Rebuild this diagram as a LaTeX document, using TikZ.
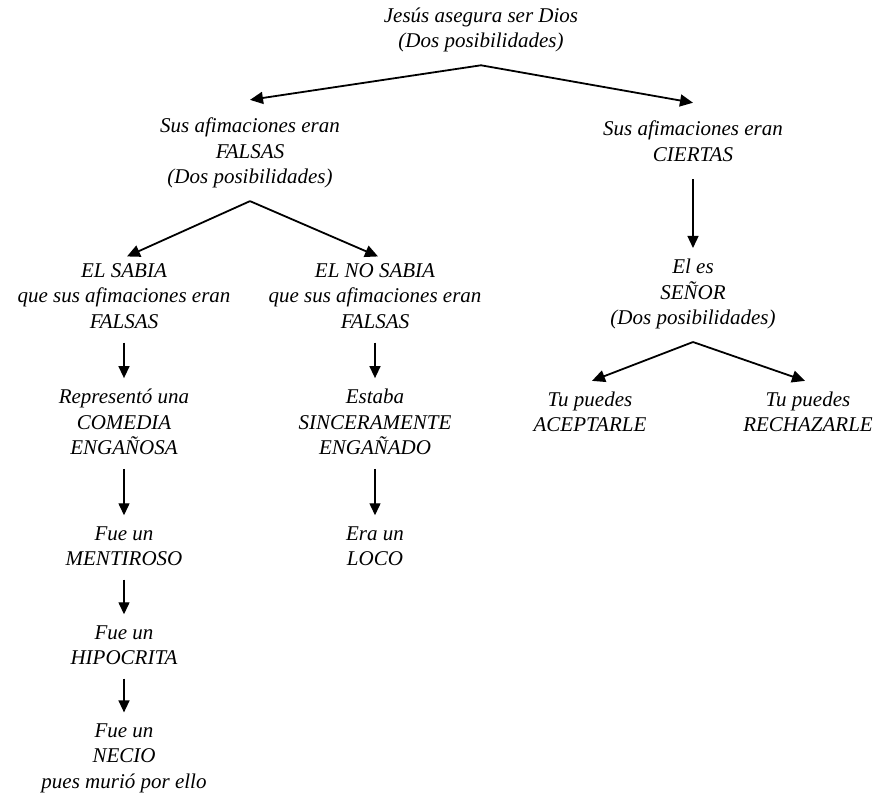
\documentclass[tikz,border=0pt]{standalone}
\usepackage{fontspec}
\setmainfont{Liberation Serif}
\usepackage{tikz}
\usetikzlibrary{arrows.meta,calc,positioning}

\begin{document}
\begin{tikzpicture}[
    % GLOBAL CFG
    x=1pt, y=-1pt,
    font=\fontsize{21}{25.5}\selectfont\itshape,
    % Styles
    txt/.style={% For every text block
        align=center,
        inner sep=0pt,
        outer sep=0pt,
        },
    fork/.style={% Arrows that split in two
        -{Triangle[length=13pt,width=12pt]},
        line width=1.8pt,
        },
    down/.style={% Small arrows going down
        -{Triangle[length=12pt,width=11pt]},
        line width=1.4pt,
        shorten <=14pt,
        shorten >=11pt,
        },
    ]
    \useasboundingbox (0,0) rectangle (886,795);

    % Draw the texts
    \node [txt] (top) at (481,30) {Jesús asegura ser Dios\\(Dos posibilidades)};

    \node [txt] (falsas) at (250,153) {Sus afimaciones eran\\FALSAS\\(Dos posibilidades)};
    \node [txt] (ciertas) at (693,141) {Sus afimaciones eran\\CIERTAS};

    % Left branch
    \node [txt] (sabia) at (124,296) {EL SABIA\\que sus afimaciones eran\\FALSAS};
    \node [txt] (comedia) at (124,422) {Representó una\\COMEDIA\\ENGAÑOSA};
    \node [txt] (mentiroso) at (124,546) {Fue un\\MENTIROSO};
    \node [txt] (hipocrita) at (124,645) {Fue un\\HIPOCRITA};
    \node [txt] (necio) at (124,758) {Fue un\\NECIO\\pues murió por ello};

    % Middle branch
    \node [txt] (nosabia) at (375,296) {EL NO SABIA\\que sus afimaciones eran\\FALSAS};
    \node [txt] (sincero) at (375,422) {Estaba\\SINCERAMENTE\\ENGAÑADO};
    \node [txt] (loco) at (375,546) {Era un\\LOCO};

    % Right branch
    \node [txt] (senor) at (693,294) {El es\\SEÑOR\\(Dos posibilidades)};
    \node [txt] (aceptar) at (590,412) {Tu puedes\\ACEPTARLE};
    \node [txt] (rechazar) at (808,412) {Tu puedes\\RECHAZARLE};

    % Fork points
    \coordinate (fork1) at ([yshift=-13pt]top.south);
    \coordinate (fork2) at ([yshift=-13pt]falsas.south);
    \coordinate (fork3) at ([yshift=-13pt]senor.south);

    % Drawing arrows
    \draw [fork] (fork1) -- ([yshift=18pt]falsas.north);
    \draw [fork] (fork1) -- ([yshift=18pt]ciertas.north);
    \draw [fork] (fork2) -- ([xshift=3pt,yshift=7pt]sabia.north);
    \draw [fork] (fork2) -- ([xshift=3pt,yshift=7pt]nosabia.north);
    \draw [fork] (fork3) -- ([xshift=2pt,yshift=11pt]aceptar.north);
    \draw [fork] (fork3) -- ([xshift=-3pt,yshift=11pt]rechazar.north);

    \draw [down, shorten <=18pt] (ciertas.south) -- (senor.north);
    \draw [down] (sabia.south) -- (comedia.north);
    \draw [down] (comedia.south) -- (mentiroso.north);
    \draw [down] (mentiroso.south) -- (hipocrita.north);
    \draw [down] (hipocrita.south) -- (necio.north);
    \draw [down] (nosabia.south) -- (sincero.north);
    \draw [down] (sincero.south) -- (loco.north);

\end{tikzpicture}
\end{document}
